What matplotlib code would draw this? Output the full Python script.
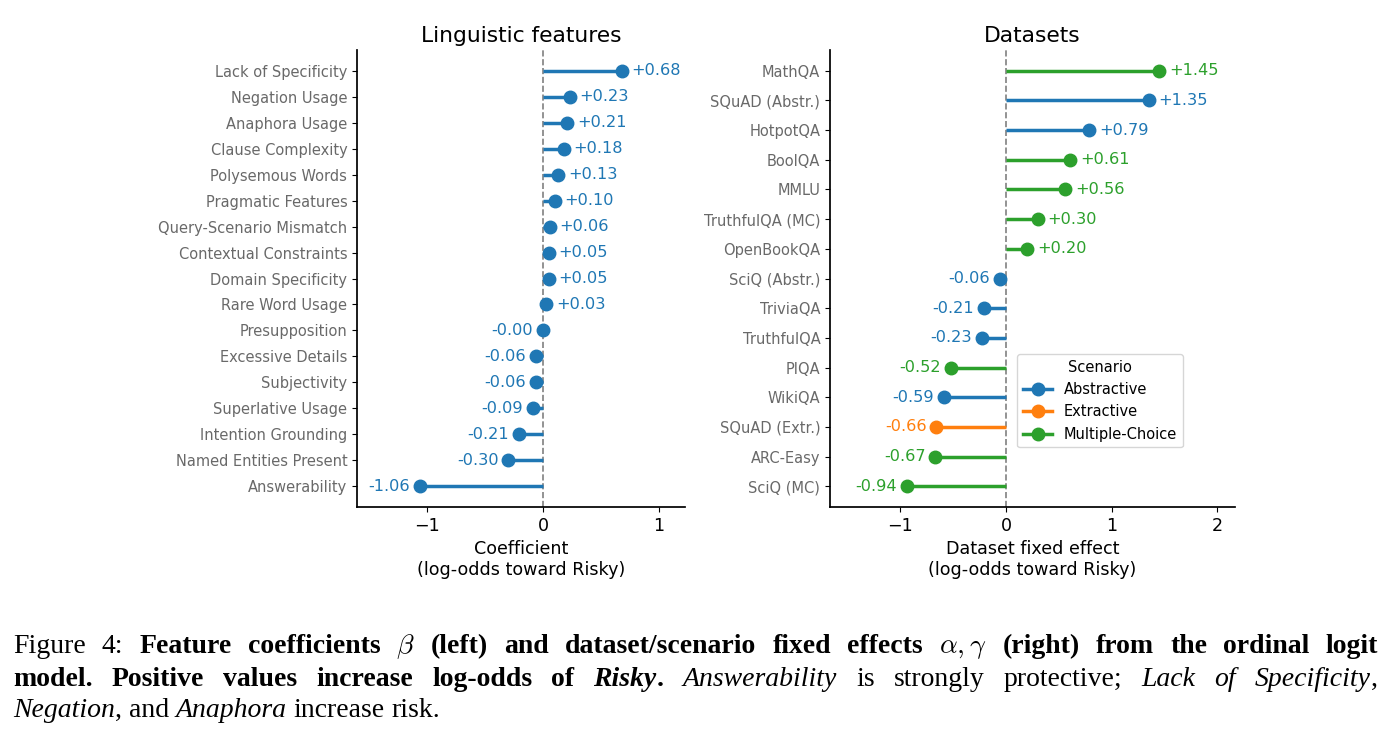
import numpy as np
import matplotlib
matplotlib.use("Agg")
import matplotlib.pyplot as plt
from matplotlib.lines import Line2D

plt.rcParams['font.family'] = ['DejaVu Sans']
plt.rcParams['mathtext.fontset'] = 'cm'

# linguistic features, top to bottom
features = ["Lack of Specificity", "Negation Usage", "Anaphora Usage", "Clause Complexity",
            "Polysemous Words", "Pragmatic Features", "Query-Scenario Mismatch",
            "Contextual Constraints", "Domain Specificity", "Rare Word Usage",
            "Presupposition", "Excessive Details", "Subjectivity", "Superlative Usage",
            "Intention Grounding", "Named Entities Present", "Answerability"]
coefs = [0.68, 0.23, 0.21, 0.18, 0.13, 0.10, 0.06, 0.05, 0.05, 0.03,
         -0.0, -0.06, -0.06, -0.09, -0.21, -0.30, -1.06]

# datasets, top to bottom
datasets = ["MathQA", "SQuAD (Abstr.)", "HotpotQA", "BoolQA", "MMLU", "TruthfulQA (MC)",
            "OpenBookQA", "SciQ (Abstr.)", "TriviaQA", "TruthfulQA", "PIQA", "WikiQA",
            "SQuAD (Extr.)", "ARC-Easy", "SciQ (MC)"]
effects = [1.45, 1.35, 0.79, 0.61, 0.56, 0.30, 0.20, -0.06, -0.21, -0.23,
           -0.52, -0.59, -0.66, -0.67, -0.94]
scenario = ["Multiple-Choice", "Abstractive", "Abstractive", "Multiple-Choice",
            "Multiple-Choice", "Multiple-Choice", "Multiple-Choice", "Abstractive",
            "Abstractive", "Abstractive", "Multiple-Choice", "Abstractive",
            "Extractive", "Multiple-Choice", "Multiple-Choice"]

colors = {"Abstractive": "#1f77b4", "Extractive": "#ff7f0e", "Multiple-Choice": "#2ca02c"}

W, H = 1396, 748
fig = plt.figure(figsize=(W / 100, H / 100), dpi=100)


def lollipop(ax, labels, vals, cols, xlim, xticks, title, xlabel):
    y = np.arange(len(vals))[::-1]
    ax.axvline(0, color="gray", ls="--", lw=1.2, zorder=0.5)
    for yi, v, c in zip(y, vals, cols):
        ax.hlines(yi, 0, v, color=c, lw=2.5, zorder=2)
        ax.plot(v, yi, "o", color=c, ms=9, zorder=3)
        neg = np.signbit(v)
        ax.annotate(f"{v:+.2f}", (v, yi), xytext=(-7 if neg else 7, 0),
                    textcoords="offset points", ha="right" if neg else "left",
                    va="center", color=c, fontsize=11.6)
    ax.set_yticks(y)
    ax.set_yticklabels(labels, fontsize=10.5, color="dimgray")
    ax.set_xlim(*xlim)
    ax.set_xticks(xticks)
    ax.tick_params(axis="x", labelsize=12.6)
    ax.set_title(title, fontsize=15.7)
    ax.set_xlabel(xlabel, fontsize=12.6)
    ax.spines["top"].set_visible(False)
    ax.spines["right"].set_visible(False)
    for s in ("left", "bottom"):
        ax.spines[s].set_linewidth(1.25)


ax1 = fig.add_axes([357 / W, 1 - 507 / H, 328 / W, 457 / H])
lollipop(ax1, features, coefs, ["#1f77b4"] * len(coefs), (-1.603, 1.224), [-1, 0, 1],
         "Linguistic features", "Coefficient\n(log-odds toward Risky)")

ax2 = fig.add_axes([830 / W, 1 - 507 / H, 405 / W, 457 / H])
lollipop(ax2, datasets, effects, [colors[s] for s in scenario], (-1.665, 2.167),
         [-1, 0, 1, 2], "Datasets", "Dataset fixed effect\n(log-odds toward Risky)")

handles = [Line2D([0], [0], color=c, lw=2.5, marker="o", ms=9, label=k)
           for k, c in colors.items()]
ax2.legend(handles=handles, title="Scenario", loc="upper left",
           bbox_to_anchor=(0.462, 0.335), borderaxespad=0, fontsize=10.5,
           title_fontsize=10.5)

# caption below the chart
cap = [
    [("Figure 4:", "n"), (" Feature coefficients", "b"), (r" $\beta$", "m"),
     (" (left) and dataset/scenario fixed effects", "b"), (r" $\alpha, \gamma$", "m"),
     (" (right) from the ordinal logit", "b")],
    [("model.  Positive values increase log-odds of", "b"), (" Risky", "bi"), (".", "b"),
     (" Answerability", "i"), (" is strongly protective;", "n"),
     (" Lack of Specificity", "i"), (",", "n")],
    [("Negation", "i"), (", and", "n"), (" Anaphora", "i"), (" increase risk.", "n")],
]
styles = {"n": dict(), "b": dict(fontweight="bold"), "i": dict(fontstyle="italic"),
          "bi": dict(fontweight="bold", fontstyle="italic"), "m": dict()}
cap_fs = 20
baselines = [653, 686, 717]
x0, x1 = 13, 1378
renderer = fig.canvas.get_renderer()
for li, (segs, yb) in enumerate(zip(cap, baselines)):
    toks = []
    for s, st in segs:
        words = [s.strip()] if st == "m" else s.split()
        for i, w in enumerate(words):
            toks.append((w, st, i > 0 or s[0] == " "))
    texts = []
    for w, st, gap in toks:
        t = fig.text(0, 1 - yb / H, w, fontsize=cap_fs, family="Liberation Serif",
                     va="baseline", ha="left", **styles[st])
        texts.append((t, t.get_window_extent(renderer).width, gap))
    total = sum(wd for _, wd, _ in texts)
    ngaps = sum(1 for _, _, g in texts if g)
    if li < len(cap) - 1:
        sp = (x1 - x0 - total) / ngaps
    else:
        sp = 0.25 * cap_fs * 100 / 72
    x = x0
    for t, wd, gap in texts:
        if gap:
            x += sp
        t.set_x(x / W)
        x += wd

fig.savefig("out.png", dpi=100)
